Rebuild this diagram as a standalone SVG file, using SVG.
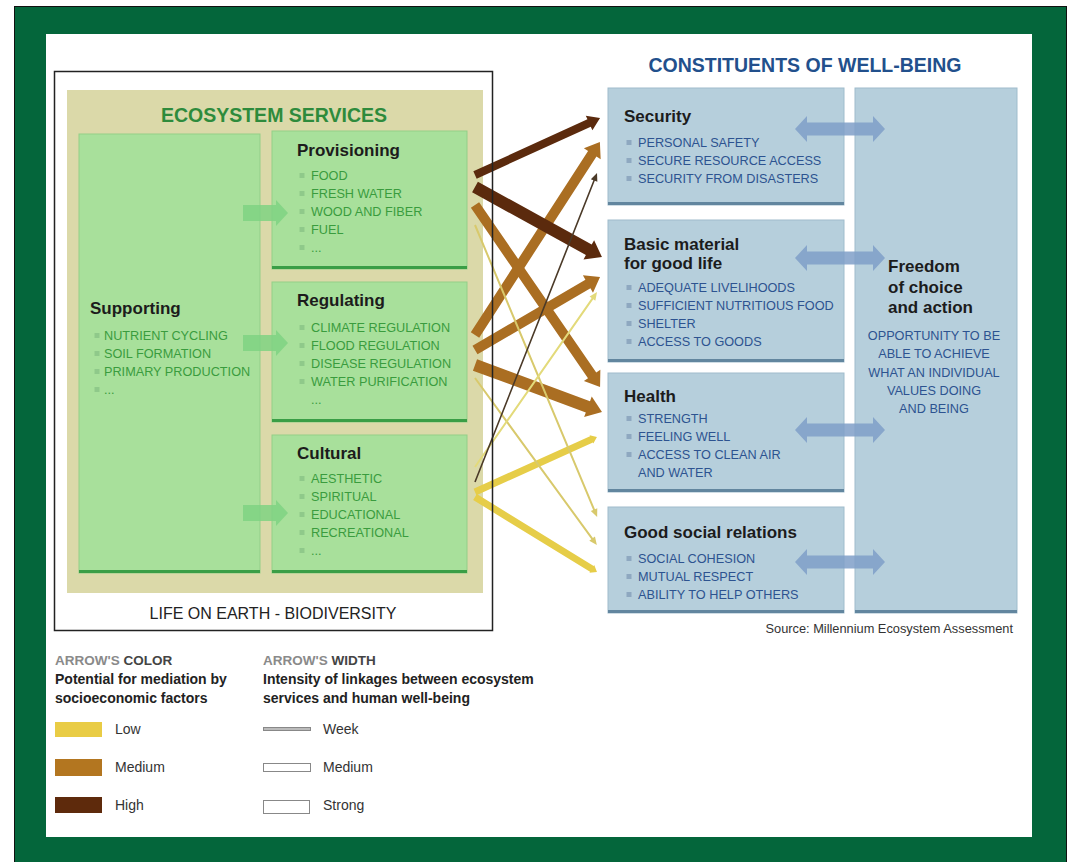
<svg xmlns="http://www.w3.org/2000/svg" width="1067" height="862" viewBox="0 0 1067 862">
<style>
text{font-family:'Liberation Sans',Arial,Helvetica,sans-serif}
.hd{font-weight:bold;font-size:17px;fill:#1c1c1c}
.gi{font-size:12.7px;fill:#3a9c3e}
.bi{font-size:12.7px;fill:#2d5390}
.gbox{fill:#a8e09b;stroke:#93cf88;stroke-width:1}
.gbot{fill:#3a9e46}
.bbox{fill:#b6cfdc;stroke:#9fbccc;stroke-width:1}
.bbot{fill:#62869f}
.gb{fill:#8fc98a}
.bb{fill:#8ea8c0}
.dark{fill:#5b2a0d}
.med{fill:#aa6e22}
.low{fill:#e6cd48}
.lowthin{fill:#d8c96c}
.leg{font-size:14px;fill:#333}
.legb{font-size:14px;font-weight:bold;fill:#222}
</style>
<defs>
<rect id="gbul" class="gb" x="-2.5" y="-7" width="5" height="5"/>
<rect id="bbul" class="bb" x="-2.5" y="-7" width="5" height="5"/>
<polygon id="garr" points="0,-8 33,-8 33,-13 45,0 33,13 33,8 0,8" fill="#7fd283" opacity="0.85"/>
<polygon id="dbl" points="-45,0 -33,-13 -33,-6.5 33,-6.5 33,-13 45,0 33,13 33,6.5 -33,6.5 -33,13" fill="#7f9fc8" opacity="0.85"/>
</defs>

<g id="frame">
<rect x="0" y="0" width="1067" height="862" fill="#ffffff"/>
<rect x="14.5" y="6.5" width="1052" height="857" fill="#04663b" stroke="#111" stroke-width="1"/>
<rect x="46" y="34" width="986" height="803" fill="#ffffff"/>
</g>

<g id="ecosystem-services">
<rect x="67" y="90" width="416" height="503" fill="#dbd9a9"/>
<text x="274" y="122" text-anchor="middle" font-size="19.5" font-weight="bold" fill="#2e8b3c">ECOSYSTEM SERVICES</text>
</g>

<g id="supporting">
<rect class="gbox" x="79" y="134" width="181" height="439"/>
<rect class="gbot" x="79" y="570" width="181" height="3"/>
<text class="hd" x="90" y="314">Supporting</text>
<use href="#gbul" x="97" y="340"/><text class="gi" x="104" y="340">NUTRIENT CYCLING</text>
<use href="#gbul" x="97" y="358"/><text class="gi" x="104" y="358">SOIL FORMATION</text>
<use href="#gbul" x="97" y="376"/><text class="gi" x="104" y="376">PRIMARY PRODUCTION</text>
<use href="#gbul" x="97" y="394"/><text class="gi" x="104" y="394">...</text>
</g>

<g id="provisioning">
<rect class="gbox" x="272" y="131" width="195" height="138"/>
<rect class="gbot" x="272" y="266" width="195" height="3"/>
<text class="hd" x="297" y="156">Provisioning</text>
<use href="#gbul" x="302" y="180"/><text class="gi" x="311" y="180">FOOD</text>
<use href="#gbul" x="302" y="198"/><text class="gi" x="311" y="198">FRESH WATER</text>
<use href="#gbul" x="302" y="216"/><text class="gi" x="311" y="216">WOOD AND FIBER</text>
<use href="#gbul" x="302" y="234"/><text class="gi" x="311" y="234">FUEL</text>
<use href="#gbul" x="302" y="252"/><text class="gi" x="311" y="252">...</text>
</g>

<g id="regulating">
<rect class="gbox" x="272" y="282" width="195" height="140"/>
<rect class="gbot" x="272" y="419" width="195" height="3"/>
<text class="hd" x="297" y="306">Regulating</text>
<use href="#gbul" x="302" y="332"/><text class="gi" x="311" y="332">CLIMATE REGULATION</text>
<use href="#gbul" x="302" y="350"/><text class="gi" x="311" y="350">FLOOD REGULATION</text>
<use href="#gbul" x="302" y="368"/><text class="gi" x="311" y="368">DISEASE REGULATION</text>
<use href="#gbul" x="302" y="386"/><text class="gi" x="311" y="386">WATER PURIFICATION</text>
<text class="gi" x="311" y="404">...</text>
</g>

<g id="cultural">
<rect class="gbox" x="272" y="435" width="195" height="138"/>
<rect class="gbot" x="272" y="570" width="195" height="3"/>
<text class="hd" x="297" y="459">Cultural</text>
<use href="#gbul" x="302" y="483"/><text class="gi" x="311" y="483">AESTHETIC</text>
<use href="#gbul" x="302" y="501"/><text class="gi" x="311" y="501">SPIRITUAL</text>
<use href="#gbul" x="302" y="519"/><text class="gi" x="311" y="519">EDUCATIONAL</text>
<use href="#gbul" x="302" y="537"/><text class="gi" x="311" y="537">RECREATIONAL</text>
<use href="#gbul" x="302" y="555"/><text class="gi" x="311" y="555">...</text>
</g>

<g id="supporting-arrows">
<use href="#garr" x="243" y="213"/>
<use href="#garr" x="243" y="343"/>
<use href="#garr" x="243" y="513"/>
</g>

<g id="connectors">
<polygon class="med" transform="translate(475,205) rotate(55.5)" points="0,-5 206.8,-5 206.8,-10 220.8,0 206.8,10 206.8,5 0,5"/>
<polygon class="med" transform="translate(475,335) rotate(-57.1)" points="0,-5 215.9,-5 215.9,-10 229.9,0 215.9,10 215.9,5 0,5"/>
<polygon class="med" transform="translate(475,350) rotate(-30.3)" points="0,-5 130.8,-5 130.8,-10 144.8,0 130.8,10 130.8,5 0,5"/>
<polygon class="med" transform="translate(475,365) rotate(20.3)" points="0,-6 120.4,-6 120.4,-11 135.4,0 120.4,11 120.4,6 0,6"/>
<polygon class="dark" transform="translate(475,175) rotate(-24.5)" points="0,-4 125.4,-4 125.4,-8 137.4,0 125.4,8 125.4,4 0,4"/>
<polygon class="dark" transform="translate(475,187) rotate(28.9)" points="0,-6 130,-6 130,-11 145,0 130,11 130,6 0,6"/>
<polygon class="low" transform="translate(475,492) rotate(-24.3)" points="0,-3.5 127.8,-3.5 127.8,-4.5 133.8,0 127.8,4.5 127.8,3.5 0,3.5"/>
<polygon class="low" transform="translate(475,497) rotate(31.6)" points="0,-3.5 137.2,-3.5 137.2,-4.5 143.2,0 137.2,4.5 137.2,3.5 0,3.5"/>
<polygon class="lowthin" transform="translate(475,225) rotate(67.3)" points="0,-1 308.5,-1 308.5,-3.5 316.5,0 308.5,3.5 308.5,1 0,1"/>
<polygon class="lowthin" transform="translate(475,378) rotate(53.9)" points="0,-1 198.8,-1 198.8,-3.5 206.8,0 198.8,3.5 198.8,1 0,1"/>
<polygon fill="#e3da7a" transform="translate(475,467) rotate(-55.1)" points="0,-1 205.3,-1 205.3,-3.5 213.3,0 205.3,3.5 205.3,1 0,1"/>
<polygon fill="#4b3a28" transform="translate(475,482) rotate(-68.45)" points="0,-0.8 324.2,-0.8 324.2,-3.5 332.2,0 324.2,3.5 324.2,0.8 0,0.8"/>
</g>

<g id="life-on-earth">
<rect x="54.5" y="71.5" width="438" height="559" fill="none" stroke="#222" stroke-width="1.5"/>
<text x="273" y="619" text-anchor="middle" font-size="16" fill="#222">LIFE ON EARTH - BIODIVERSITY</text>
</g>

<g id="constituents-title">
<text x="805" y="72" text-anchor="middle" font-size="19.5" font-weight="bold" fill="#22508c">CONSTITUENTS OF WELL-BEING</text>
</g>

<g id="freedom">
<rect class="bbox" x="855" y="88" width="162" height="525"/>
<rect class="bbot" x="855" y="610" width="162" height="3"/>
<text class="hd" x="888" y="272">Freedom</text>
<text class="hd" x="888" y="293">of choice</text>
<text class="hd" x="888" y="313">and action</text>
<g class="bi" text-anchor="middle">
<text x="934" y="340">OPPORTUNITY TO BE</text>
<text x="934" y="358">ABLE TO ACHIEVE</text>
<text x="934" y="377">WHAT AN INDIVIDUAL</text>
<text x="934" y="395">VALUES DOING</text>
<text x="934" y="413">AND BEING</text>
</g>
</g>

<g id="security">
<rect class="bbox" x="608" y="88" width="236" height="117"/>
<rect class="bbot" x="608" y="202" width="236" height="3"/>
<text class="hd" x="624" y="122">Security</text>
<use href="#bbul" x="629" y="147"/><text class="bi" x="638" y="147">PERSONAL SAFETY</text>
<use href="#bbul" x="629" y="165"/><text class="bi" x="638" y="165">SECURE RESOURCE ACCESS</text>
<use href="#bbul" x="629" y="183"/><text class="bi" x="638" y="183">SECURITY FROM DISASTERS</text>
</g>

<g id="basic-material">
<rect class="bbox" x="608" y="220" width="236" height="142"/>
<rect class="bbot" x="608" y="359" width="236" height="3"/>
<text class="hd" x="624" y="250">Basic material</text>
<text class="hd" x="624" y="269">for good life</text>
<use href="#bbul" x="629" y="292"/><text class="bi" x="638" y="292">ADEQUATE LIVELIHOODS</text>
<use href="#bbul" x="629" y="310"/><text class="bi" x="638" y="310">SUFFICIENT NUTRITIOUS FOOD</text>
<use href="#bbul" x="629" y="328"/><text class="bi" x="638" y="328">SHELTER</text>
<use href="#bbul" x="629" y="346"/><text class="bi" x="638" y="346">ACCESS TO GOODS</text>
</g>

<g id="health">
<rect class="bbox" x="608" y="373" width="236" height="119"/>
<rect class="bbot" x="608" y="489" width="236" height="3"/>
<text class="hd" x="624" y="402">Health</text>
<use href="#bbul" x="629" y="423"/><text class="bi" x="638" y="423">STRENGTH</text>
<use href="#bbul" x="629" y="441"/><text class="bi" x="638" y="441">FEELING WELL</text>
<use href="#bbul" x="629" y="459"/><text class="bi" x="638" y="459">ACCESS TO CLEAN AIR</text>
<text class="bi" x="638" y="477">AND WATER</text>
</g>

<g id="social-relations">
<rect class="bbox" x="608" y="507" width="236" height="106"/>
<rect class="bbot" x="608" y="610" width="236" height="3"/>
<text class="hd" x="624" y="538">Good social relations</text>
<use href="#bbul" x="629" y="563"/><text class="bi" x="638" y="563">SOCIAL COHESION</text>
<use href="#bbul" x="629" y="581"/><text class="bi" x="638" y="581">MUTUAL RESPECT</text>
<use href="#bbul" x="629" y="599"/><text class="bi" x="638" y="599">ABILITY TO HELP OTHERS</text>
</g>

<g id="freedom-links">
<use href="#dbl" x="840" y="129"/>
<use href="#dbl" x="840" y="258"/>
<use href="#dbl" x="840" y="430"/>
<use href="#dbl" x="840" y="562"/>
</g>

<text x="1013" y="633" text-anchor="end" font-size="12.8" fill="#333">Source: Millennium Ecosystem Assessment</text>

<g id="legend">
<text x="55" y="665" font-size="13.5" font-weight="bold"><tspan fill="#8a8a8a">ARROW'S</tspan><tspan fill="#444"> COLOR</tspan></text>
<text class="legb" x="55" y="684">Potential for mediation by</text>
<text class="legb" x="55" y="703">socioeconomic factors</text>
<rect x="55" y="722" width="47" height="15" fill="#e9cc45"/>
<text class="leg" x="115" y="734">Low</text>
<rect x="55" y="759" width="47" height="17" fill="#b37620"/>
<text class="leg" x="115" y="772">Medium</text>
<rect x="55" y="797" width="47" height="16" fill="#5e2a0c"/>
<text class="leg" x="115" y="810">High</text>

<text x="263" y="665" font-size="13.5" font-weight="bold"><tspan fill="#8a8a8a">ARROW'S</tspan><tspan fill="#444"> WIDTH</tspan></text>
<text class="legb" x="263" y="684">Intensity of linkages between ecosystem</text>
<text class="legb" x="263" y="703">services and human well-being</text>
<rect x="263.5" y="727.5" width="47" height="3" fill="#bbb" stroke="#888" stroke-width="1"/>
<text class="leg" x="323" y="734">Week</text>
<rect x="263.5" y="763.5" width="47" height="8" fill="#fff" stroke="#888" stroke-width="1"/>
<text class="leg" x="323" y="772">Medium</text>
<rect x="263.5" y="800.5" width="46" height="13" fill="#fff" stroke="#888" stroke-width="1"/>
<text class="leg" x="323" y="810">Strong</text>
</g>
</svg>
